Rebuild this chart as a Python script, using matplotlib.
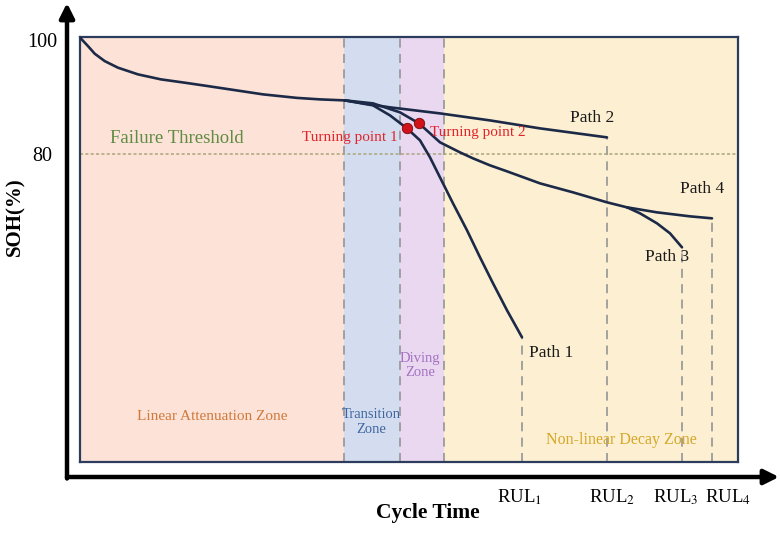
import matplotlib
matplotlib.use("Agg")
import matplotlib.pyplot as plt

plt.rcParams['font.family'] = ['Liberation Serif', 'DejaVu Serif']
plt.rcParams['mathtext.fontset'] = 'stix'

# degradation curves (cycle, SOH %)
main_cycle = [0, 8, 14.7, 24.7, 38, 58, 81, 104.7, 128, 150, 183, 217, 240, 265]
main_soh = [100.5, 99.0, 97.67, 96.37, 95.21, 94.04, 93.16, 92.58, 91.98, 91.4, 90.53, 89.91, 89.65, 89.47]

path1_cycle = [265, 293, 310, 327, 340, 350, 360, 373, 387, 400, 413, 427, 442]
path1_soh = [89.47, 88.60, 86.84, 84.56, 82.46, 79.47, 75.96, 71.40, 66.67, 61.93, 57.37, 52.63, 47.89]

path2_cycle = [265, 290, 310, 360, 410, 460, 527]
path2_soh = [89.47, 88.77, 88.25, 87.19, 85.96, 84.56, 82.98]

# shared trunk of paths 3 and 4
trunk_cycle = [265, 293, 320, 339, 360, 380, 393, 410, 427, 460, 493, 527, 547]
trunk_soh = [89.47, 88.95, 87.37, 85.44, 82.11, 80.35, 79.30, 78.07, 77.02, 74.91, 73.33, 71.58, 70.70]

path3_cycle = [547, 560, 577, 590, 602]
path3_soh = [70.70, 69.65, 67.89, 66.14, 63.68]

path4_cycle = [547, 577, 610, 632]
path4_soh = [70.70, 69.82, 69.12, 68.77]

turning_cycle = [327, 339]
turning_soh = [84.56, 85.44]

threshold = 80
zone_edges = [0, 264, 320, 364, 658]
zone_colors = ['#fde3d7', '#d4ddef', '#e9d8f0', '#fdf0d2']

rul_cycle = [442, 527, 602, 632]
rul_end_soh = [47.89, 82.98, 63.68, 68.77]
rul_labels = [r'RUL$_1$', r'RUL$_2$', r'RUL$_3$', r'RUL$_4$']
rul_label_x = [440, 532, 596, 648]

ymin, ymax = 26.0, 100.6

fig = plt.figure(figsize=(7.8, 5.33), dpi=100)

# outer arrow axes drawn in pixel space
ov = fig.add_axes([0, 0, 1, 1], zorder=0)
ov.set_xlim(0, 780)
ov.set_ylim(533, 0)
ov.axis('off')
arrow = dict(arrowstyle='-|>', lw=3.2, color='black', mutation_scale=22,
             shrinkA=0, shrinkB=0)
ov.annotate('', xy=(67, 3), xytext=(67, 478.5), arrowprops=arrow)
ov.annotate('', xy=(779, 477), xytext=(67, 477), arrowprops=arrow)

ax = fig.add_axes([80 / 780, 71 / 533, 658 / 780, 425 / 533], zorder=1)
ax.set_xlim(zone_edges[0], zone_edges[-1])
ax.set_ylim(ymin, ymax)

for i in range(len(zone_colors)):
    ax.axvspan(zone_edges[i], zone_edges[i + 1], color=zone_colors[i], lw=0, zorder=0)

dash = dict(color='#9b9b9b', lw=1.3, ls=(0, (5, 3.5)), zorder=1)
for x in zone_edges[1:4]:
    ax.plot([x, x], [ymin, ymax], **dash)
for x, s in zip(rul_cycle, rul_end_soh):
    ax.plot([x, x], [ymin, s], **dash)

ax.axhline(threshold, color='#aaa47c', lw=1.1, ls=(0, (2, 1.5)), zorder=1)

line = dict(color='#1c2a48', lw=1.9, zorder=3, solid_capstyle='round',
            solid_joinstyle='round')
ax.plot(main_cycle, main_soh, **line)
ax.plot(path1_cycle, path1_soh, **line)
ax.plot(path2_cycle, path2_soh, **line)
ax.plot(trunk_cycle, trunk_soh, **line)
ax.plot(path3_cycle, path3_soh, **line)
ax.plot(path4_cycle, path4_soh, **line)

ax.plot(turning_cycle, turning_soh, 'o', ms=7.5, color='#d0121b',
        mec='#7a0a0a', mew=0.6, zorder=4)

ax.text(318, 83.0, 'Turning point 1', color='#e3232c', fontsize=11, ha='right', va='center')
ax.text(350, 83.9, 'Turning point 2', color='#e3232c', fontsize=11, ha='left', va='center')
ax.text(30, 82.8, 'Failure Threshold', color='#5f8b43', fontsize=13.5, ha='left', va='center')

ax.text(512, 86.3, 'Path 2', fontsize=12.5, ha='center', va='center', color='#1a1a1a')
ax.text(622, 74.0, 'Path 4', fontsize=12.5, ha='center', va='center', color='#1a1a1a')
ax.text(587, 61.9, 'Path 3', fontsize=12.5, ha='center', va='center', color='#1a1a1a')
ax.text(471, 45.1, 'Path 1', fontsize=12.5, ha='center', va='center', color='#1a1a1a')

ax.text(132, 33.9, 'Linear Attenuation Zone', color='#cf7a3d', fontsize=11, ha='center', va='center')
ax.text(291, 33.0, 'Transition\nZone', color='#3f66a0', fontsize=10.5, ha='center', va='center',
        linespacing=1.15)
ax.text(340, 42.9, 'Diving\nZone', color='#a472c2', fontsize=10.5, ha='center', va='center',
        linespacing=1.15)
ax.text(541, 29.8, 'Non-linear Decay Zone', color='#d6a72a', fontsize=11.5, ha='center', va='center')

ax.set_yticks([100, 80])
ax.set_yticklabels(['100', '80'], fontsize=14.5, ha='center')
ax.tick_params(axis='y', length=0, pad=27)
ax.set_xticks([])

for x, lab in zip(rul_label_x, rul_labels):
    ax.text(x, -0.083, lab, fontsize=13.5, ha='center', va='center',
            transform=ax.get_xaxis_transform())

for sp in ax.spines.values():
    sp.set_color('#2b3c5c')
    sp.set_linewidth(1.6)

fig.text(15 / 780, 1 - 217 / 533, 'SOH(%)', rotation=90, fontsize=15,
         fontweight='bold', ha='center', va='center')
fig.text(428 / 780, 1 - 513 / 533, 'Cycle Time', fontsize=15.5,
         fontweight='bold', ha='center', va='center')

fig.savefig('out.png', dpi=100)
